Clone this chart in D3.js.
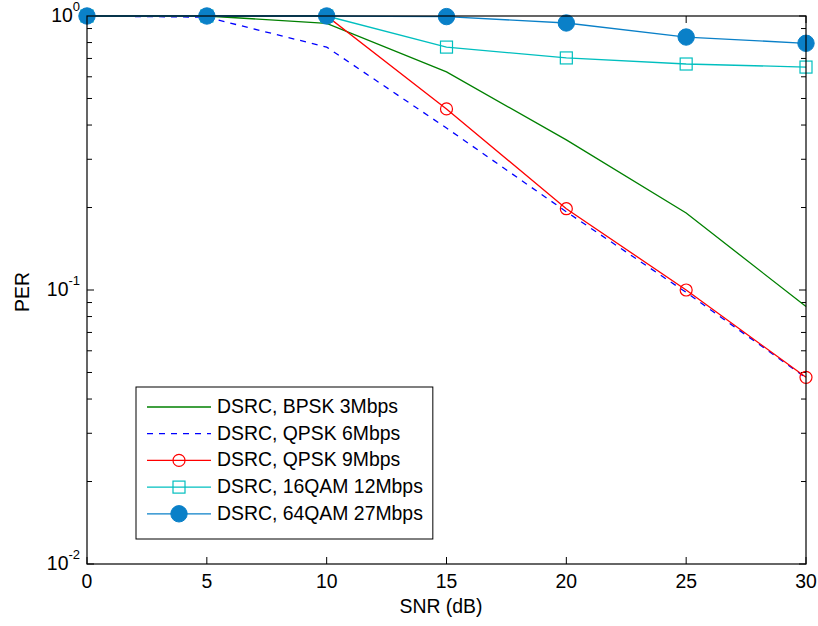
<!DOCTYPE html>
<html>
<head>
<meta charset="utf-8">
<script src="https://cdn.jsdelivr.net/npm/d3@7"></script>
<style>
  body { margin: 0; background: #fff; }
  text { font-family: "Liberation Sans", Arial, sans-serif; fill: #000; }
</style>
</head>
<body>
<svg id="canvas"></svg>
<script>
let width = 818;
let height = 626;

// data
let snr = [0, 5, 10, 15, 20, 25, 30];
let bpsk3 = [1, 1, 0.94, 0.625, 0.353, 0.191, 0.087];
let qpsk6 = [1, 0.99, 0.77, 0.39, 0.193, 0.098, 0.0478];
let qpsk9 = [1, 1, 1, 0.458, 0.198, 0.1, 0.048];
let qam16 = [1, 1, 1, 0.77, 0.703, 0.668, 0.651];
let qam64 = [1, 1, 1, 0.995, 0.943, 0.838, 0.795];
let seriesNames = ['DSRC, BPSK 3Mbps', 'DSRC, QPSK 6Mbps', 'DSRC, QPSK 9Mbps', 'DSRC, 16QAM 12Mbps', 'DSRC, 64QAM 27Mbps'];
let xTicks = [0, 5, 10, 15, 20, 25, 30];
let yDecades = [-2, -1, 0];

let series = [
  { name: seriesNames[0], values: bpsk3, color: '#008000', dash: null, marker: null },
  { name: seriesNames[1], values: qpsk6, color: '#0000FF', dash: '6,6', marker: null },
  { name: seriesNames[2], values: qpsk9, color: '#FF0000', dash: null, marker: 'circle' },
  { name: seriesNames[3], values: qam16, color: '#00BFBF', dash: null, marker: 'square' },
  { name: seriesNames[4], values: qam64, color: '#0A80C8', dash: null, marker: 'dot' }
];

let fontSize = 19.4;
let plotLeft = 87, plotRight = 806, plotTop = 16, plotBottom = 564;

let canvas = d3.select('#canvas').attr('width', width).attr('height', height);

let xScale = d3.scaleLinear().domain([0, 30]).range([plotLeft, plotRight]);
let yScale = d3.scaleLog().domain([0.01, 1]).range([plotBottom, plotTop]);

// minor ticks for log axis
let minor = [];
[0.01, 0.1].forEach(base => {
  for (let k = 2; k <= 9; k++) minor.push(base * k);
});
let major = yDecades.map(e => Math.pow(10, e));

let axes = canvas.append('g');

// x ticks, bottom and top, pointing inward
xTicks.forEach(t => {
  axes.append('line').attr('x1', xScale(t)).attr('x2', xScale(t))
    .attr('y1', plotBottom).attr('y2', plotBottom - 7).attr('stroke', '#000');
  axes.append('line').attr('x1', xScale(t)).attr('x2', xScale(t))
    .attr('y1', plotTop).attr('y2', plotTop + 7).attr('stroke', '#000');
  axes.append('text').attr('x', xScale(t)).attr('y', plotBottom + 23.5)
    .attr('text-anchor', 'middle').attr('font-size', fontSize).text(t);
});

// y ticks left and right
major.forEach(v => {
  [[plotLeft, 7], [plotRight, -7]].forEach(([x0, d]) => {
    axes.append('line').attr('x1', x0).attr('x2', x0 + d)
      .attr('y1', yScale(v)).attr('y2', yScale(v)).attr('stroke', '#000');
  });
});
minor.forEach(v => {
  [[plotLeft, 5], [plotRight, -5]].forEach(([x0, d]) => {
    axes.append('line').attr('x1', x0).attr('x2', x0 + d)
      .attr('y1', yScale(v)).attr('y2', yScale(v)).attr('stroke', '#000');
  });
});

yDecades.forEach(e => {
  let t = axes.append('text').attr('x', plotLeft - 7).attr('y', yScale(Math.pow(10, e)) + 5.5)
    .attr('text-anchor', 'end').attr('font-size', fontSize);
  t.append('tspan').text('10');
  t.append('tspan').attr('dy', -11).attr('font-size', 13).text(e);
});

// axis labels
canvas.append('text').attr('x', 441).attr('y', 612.5)
  .attr('text-anchor', 'middle').attr('font-size', fontSize).text('SNR (dB)');
canvas.append('text').attr('transform', 'translate(29,292) rotate(-90)')
  .attr('text-anchor', 'middle').attr('font-size', fontSize).text('PER');

// lines
let line = d3.line().x((d, i) => xScale(snr[i])).y(d => yScale(d));

let plot = canvas.append('g');

let drawMarker = (g, kind, color, x, y) => {
  if (kind === 'circle') {
    g.append('circle').attr('cx', x).attr('cy', y).attr('r', 6)
      .attr('fill', 'none').attr('stroke', color).attr('stroke-width', 1.2);
  } else if (kind === 'square') {
    g.append('rect').attr('x', x - 6).attr('y', y - 6).attr('width', 12).attr('height', 12)
      .attr('fill', 'none').attr('stroke', color).attr('stroke-width', 1.2);
  } else if (kind === 'dot') {
    g.append('circle').attr('cx', x).attr('cy', y).attr('r', 8.2)
      .attr('fill', color).attr('stroke', color);
  }
};

series.forEach(s => {
  plot.append('path').datum(s.values).attr('d', line)
    .attr('fill', 'none').attr('stroke', s.color).attr('stroke-width', 1.3)
    .attr('stroke-dasharray', s.dash);
  if (s.marker) {
    s.values.forEach((v, i) => drawMarker(plot, s.marker, s.color, xScale(snr[i]), yScale(v)));
  }
});

// frame
canvas.append('rect').attr('x', plotLeft).attr('y', plotTop)
  .attr('width', plotRight - plotLeft).attr('height', plotBottom - plotTop)
  .attr('fill', 'none').attr('stroke', '#000').attr('stroke-width', 1.2);

// legend
let legend = canvas.append('g');
let legendBox = legend.append('rect').attr('x', 136).attr('y', 387).attr('height', 152)
  .attr('fill', '#fff').attr('stroke', '#000').attr('stroke-width', 1);
let maxText = 0;
series.forEach((s, i) => {
  let y = 407 + i * 26.7;
  legend.append('line').attr('x1', 147).attr('x2', 211).attr('y1', y).attr('y2', y)
    .attr('stroke', s.color).attr('stroke-width', 1.3).attr('stroke-dasharray', s.dash);
  if (s.marker) drawMarker(legend, s.marker, s.color, 179, y);
  let txt = legend.append('text').attr('x', 217).attr('y', y + 6).attr('font-size', fontSize).text(s.name);
  maxText = Math.max(maxText, txt.node().getComputedTextLength());
});
legendBox.attr('width', 217 + maxText + 10 - 136);
</script>
</body>
</html>
